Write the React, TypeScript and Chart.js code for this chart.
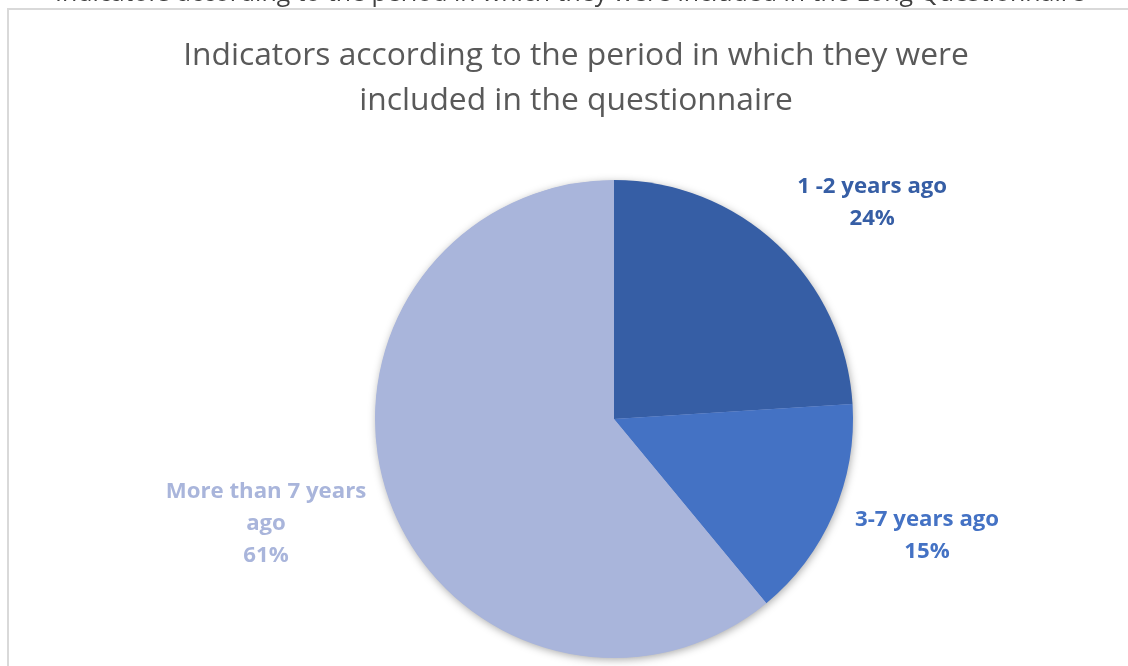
import React, { useEffect, useRef } from "react";
import { Chart, registerables } from "chart.js";

Chart.register(...registerables);

const categories = ["1 -2 years ago", "3-7 years ago", "More than 7 years ago"];
const labelLines = [["1 -2 years ago"], ["3-7 years ago"], ["More than 7 years", "ago"]];
const values = [24, 15, 61];
const colors = ["#365EA5", "#4472C4", "#A9B5DB"];
const titleLines = ["Indicators according to the period in which they were", "included in the questionnaire"];
const topCaption = "Indicators according to the period in which they were included in the Long Questionnaire";

const FONT = "'Open Sans', 'Noto Sans', sans-serif";

function fitFont(ctx: CanvasRenderingContext2D, text: string, target: number, weight: string, base: number) {
  ctx.font = `${weight} ${base}px ${FONT}`;
  const w = ctx.measureText(text).width;
  return base * target / w;
}

const framePlugin = {
  id: "frame",
  beforeDraw(chart: any) {
    const ctx = chart.ctx as CanvasRenderingContext2D;
    ctx.save();
    ctx.fillStyle = "#ffffff";
    ctx.fillRect(0, 0, chart.width, chart.height);
    // cut-off caption above the box
    const cs = fitFont(ctx, topCaption, 1030, "400", 24);
    ctx.font = `400 ${cs}px ${FONT}`;
    ctx.fillStyle = "#404040";
    ctx.textAlign = "center";
    ctx.textBaseline = "alphabetic";
    ctx.fillText(topCaption, 570, 1);
    // frame
    ctx.strokeStyle = "#D9D9D9";
    ctx.lineWidth = 2;
    ctx.beginPath();
    ctx.moveTo(8, chart.height + 2);
    ctx.lineTo(8, 9);
    ctx.lineTo(chart.width + 2, 9);
    ctx.stroke();
    // title
    const ts = fitFont(ctx, titleLines[0], 786, "400", 30);
    ctx.font = `400 ${ts}px ${FONT}`;
    ctx.fillStyle = "#595959";
    ctx.textBaseline = "middle";
    ctx.fillText(titleLines[0], 576, 56);
    ctx.fillText(titleLines[1], 576, 101);
    ctx.restore();
  },
  beforeDatasetsDraw(chart: any) {
    const meta = chart.getDatasetMeta(0);
    const arc = meta.data[0];
    if (!arc) return;
    const { x, y, outerRadius } = arc.getProps(["x", "y", "outerRadius"], true);
    const ctx = chart.ctx as CanvasRenderingContext2D;
    ctx.save();
    ctx.shadowColor = "rgba(0,0,0,0.35)";
    ctx.shadowBlur = 9;
    ctx.shadowOffsetX = 1;
    ctx.shadowOffsetY = 2;
    ctx.fillStyle = "#A9B5DB";
    ctx.beginPath();
    ctx.arc(x, y, outerRadius - 0.5, 0, Math.PI * 2);
    ctx.fill();
    ctx.restore();
  },
};

const labelPlugin = {
  id: "sliceLabels",
  afterDatasetsDraw(chart: any, _args: any, opts: any) {
    const ctx = chart.ctx as CanvasRenderingContext2D;
    const meta = chart.getDatasetMeta(0);
    const data = chart.data.datasets[0].data as number[];
    const total = data.reduce((a, b) => a + b, 0);
    ctx.save();
    const fs = fitFont(ctx, labelLines[0][0], opts.refWidth, "700", 20);
    ctx.font = `700 ${fs}px ${FONT}`;
    ctx.textAlign = "center";
    ctx.textBaseline = "middle";
    meta.data.forEach((el: any, i: number) => {
      const p = el.getProps(["x", "y", "startAngle", "endAngle", "outerRadius"], true);
      const mid = (p.startAngle + p.endAngle) / 2 + (opts.angleShift[i] * Math.PI) / 180;
      const d = p.outerRadius + opts.extra[i];
      const cx = p.x + Math.cos(mid) * d;
      const cy = p.y + Math.sin(mid) * d;
      const lines = [...labelLines[i], Math.round((data[i] / total) * 100) + "%"];
      const lh = opts.lineHeight;
      const y0 = cy - ((lines.length - 1) * lh) / 2;
      ctx.fillStyle = colors[i];
      lines.forEach((t, k) => ctx.fillText(t, cx, y0 + k * lh));
    });
    ctx.restore();
  },
};

export default function App() {
  const ref = useRef<HTMLCanvasElement>(null);
  useEffect(() => {
    if (!ref.current) return;
    const chart = new Chart(ref.current, {
      type: "pie",
      data: {
        labels: categories,
        datasets: [{ data: values, backgroundColor: colors, borderWidth: 0 }],
      },
      options: {
        responsive: false,
        animation: false,
        layout: { padding: { left: 375, right: 275, top: 180, bottom: 8 } },
        plugins: {
          legend: { display: false },
          tooltip: { enabled: false },
          title: { display: false },
          sliceLabels: { refWidth: 150, lineHeight: 32, extra: [98, 95, 124.5], angleShift: [6.8, -3.0, 3.0] },
        } as any,
      },
      plugins: [framePlugin, labelPlugin],
    });
    return () => chart.destroy();
  }, []);
  return (
    <div style={{ position: "fixed", left: 0, top: 0, width: 1128, height: 666, background: "#fff" }}>
      <canvas ref={ref} width={1128} height={666} />
    </div>
  );
}
